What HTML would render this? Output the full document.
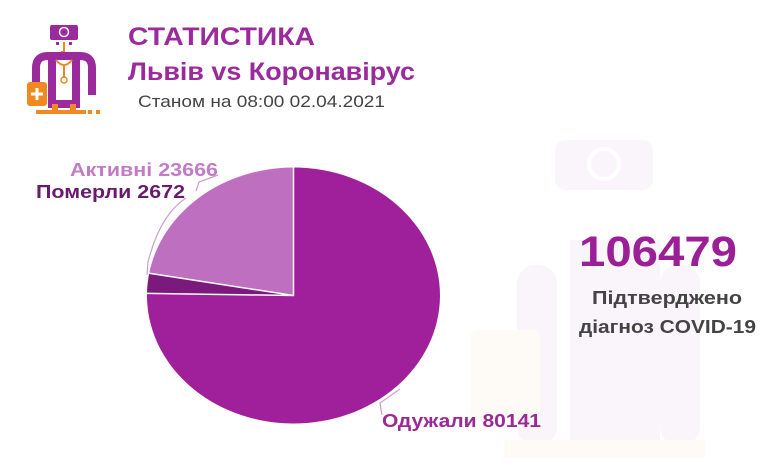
<!DOCTYPE html>
<html><head><meta charset="utf-8"><style>
html,body{margin:0;padding:0;background:#fff;}
body{width:767px;height:474px;overflow:hidden;position:relative;font-family:"Liberation Sans","Noto Sans CJK SC",sans-serif;}
</style></head><body>
<svg width="767" height="474" viewBox="0 0 767 474" xmlns="http://www.w3.org/2000/svg" style="position:absolute;left:0;top:0">
<!-- watermark -->
<g opacity="0.045">
<rect x="555" y="140" width="98" height="50" rx="10" fill="#9b2a9c"/>
<circle cx="604" cy="164" r="15" fill="none" stroke="#fff" stroke-width="4"/>
<rect x="517" y="265" width="40" height="180" rx="18" fill="#9b2a9c"/>
<rect x="660" y="265" width="40" height="180" rx="18" fill="#9b2a9c"/>
<rect x="570" y="240" width="90" height="200" fill="#9b2a9c"/>
<rect x="470" y="330" width="70" height="90" rx="8" fill="#f0a030"/>
<rect x="505" y="440" width="200" height="18" fill="#f0a030"/>
</g>
<!-- icon -->
<g>
<rect x="50" y="25" width="28" height="15" rx="2" fill="#9b2a9c"/>
<circle cx="64" cy="32" r="4.5" fill="none" stroke="#fff" stroke-width="1.5"/>
<rect x="56" y="42" width="3" height="3" fill="#9b2a9c"/><rect x="69" y="42" width="3" height="3" fill="#9b2a9c"/>
<path d="M64 42 v10 h-3" fill="none" stroke="#f08a20" stroke-width="2"/>
<path d="M36 95 V68 q0 -12 12 -12 h32 q12 0 12 12 V95" fill="none" stroke="#9b2a9c" stroke-width="8"/>
<rect x="48" y="58" width="32" height="50" fill="#9b2a9c"/>
<rect x="56" y="60" width="16" height="40" fill="#fff"/>
<path d="M56 60 q8 10 16 0 M64 64 v14" fill="none" stroke="#f08a20" stroke-width="2"/>
<circle cx="64" cy="80" r="3" fill="none" stroke="#f08a20" stroke-width="1.5"/>
<rect x="27" y="82" width="20" height="24" rx="3" fill="#f08a20"/>
<path d="M37 88 v12 M31 94 h12" stroke="#fff" stroke-width="3"/>
<rect x="36" y="110" width="50" height="4" fill="#f08a20"/>
<rect x="52" y="104" width="6" height="6" fill="#f08a20"/><rect x="70" y="104" width="6" height="6" fill="#f08a20"/>
<rect x="88" y="110" width="4" height="4" fill="#f08a20"/><rect x="96" y="110" width="4" height="4" fill="#f08a20"/>
</g>
<text x="128" y="45" font-size="25" font-weight="bold" fill="#9b2a9c" textLength="187" lengthAdjust="spacingAndGlyphs">СТАТИСТИКА</text>
<text x="128" y="80" font-size="25" font-weight="bold" fill="#9b2a9c" textLength="287" lengthAdjust="spacingAndGlyphs">Львів vs Коронавірус</text>
<text x="138" y="107" font-size="17" fill="#444" textLength="247" lengthAdjust="spacingAndGlyphs">Станом на 08:00 02.04.2021</text>
<!-- pie -->
<path d="M293.5 295.5 L293.5 167.5 A146.5 128 0 1 1 147.0 293.4 Z" fill="#a01f9b"/>
<path d="M293.5 295.5 L147.0 293.4 A146.5 128 0 0 1 149.2 273.3 Z" fill="#7b1a7c"/>
<path d="M293.5 295.5 L149.2 273.3 A146.5 128 0 0 1 293.5 167.5 Z" fill="#bf6fc0"/>
<path d="M293.5 167.5 L293.5 295.5 L147 293.4 M293.5 295.5 L149.2 273.3" stroke="#fff" stroke-width="1.5" fill="none"/>
<!-- leader lines -->
<path d="M186 198 Q160 215 148 262 L147 275" fill="none" stroke="#c9a0cc" stroke-width="1.2"/>
<path d="M218 175 L199 182 L196 191" fill="none" stroke="#c9a0cc" stroke-width="1.2"/>
<path d="M400 389 L380 403 L382 415" fill="none" stroke="#c9a0cc" stroke-width="1.2"/>
<text x="70" y="176" font-size="18" font-weight="bold" fill="#c27bc6" textLength="148" lengthAdjust="spacingAndGlyphs">Активні 23666</text>
<text x="36" y="198" font-size="18" font-weight="bold" fill="#6a1a6e" textLength="149" lengthAdjust="spacingAndGlyphs">Померли 2672</text>
<text x="382" y="427" font-size="18" font-weight="bold" fill="#9a2a94" textLength="159" lengthAdjust="spacingAndGlyphs">Одужали 80141</text>
<text x="579" y="266" font-size="43" font-weight="bold" fill="#9b1f96" textLength="158" lengthAdjust="spacingAndGlyphs">106479</text>
<text x="592" y="304" font-size="18" font-weight="bold" fill="#444" textLength="150" lengthAdjust="spacingAndGlyphs">Підтверджено</text>
<text x="579" y="333" font-size="18" font-weight="bold" fill="#444" textLength="177" lengthAdjust="spacingAndGlyphs">діагноз COVID-19</text>
</svg>
</body></html>
